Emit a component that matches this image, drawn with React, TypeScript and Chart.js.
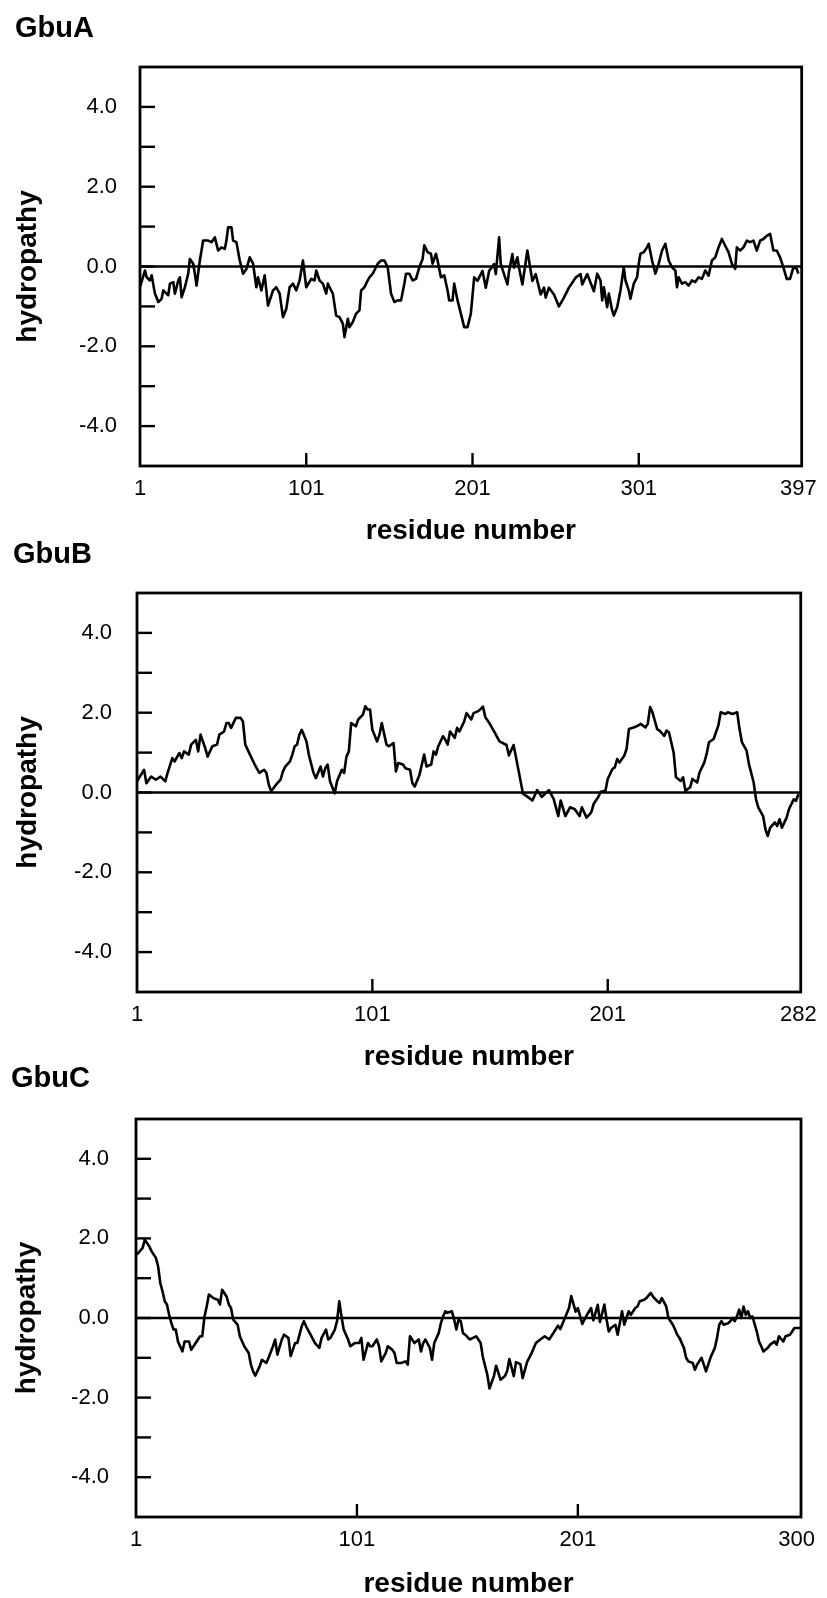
import React, { useEffect, useRef } from "react";
import { Chart, registerables } from "chart.js";

Chart.register(...registerables);

// ---------------- DATA ----------------
const panelTitles = ["GbuA", "GbuB", "GbuC"];
const xAxisTitle = "residue number";
const yAxisTitle = "hydropathy";

const gbuAXTicks = [1, 101, 201, 301, 397];
const gbuBXTicks = [1, 101, 201, 282];
const gbuCXTicks = [1, 101, 201, 300];
const yTickValues = [-4, -3, -2, -1, 0, 1, 2, 3, 4];
const yLabelValues = [-4, -2, 0, 2, 4];

const gbuAResidue = [
  1, 4, 5, 7, 8, 10, 12, 14, 15, 17,
  18, 19, 21, 22, 24, 25, 26, 28, 30, 31,
  33, 34, 35, 37, 39, 42, 44, 46, 48, 50,
  52, 53, 54, 56, 57, 59, 61, 63, 65, 67,
  69, 71, 72, 74, 76, 78, 81, 83, 85, 87,
  89, 91, 93, 95, 97, 99, 101, 104, 106, 107,
  109, 111, 113, 114, 115, 117, 119, 121, 123, 124,
  126, 127, 129, 131, 133, 134, 136, 137, 139, 141,
  144, 146, 148, 150, 152, 154, 156, 158, 160, 161,
  163, 165, 167, 169, 171, 172, 174, 176, 177, 179,
  180, 182, 184, 186, 187, 189, 190, 192, 194, 196,
  198, 200, 202, 204, 207, 209, 211, 214, 215, 217,
  218, 222, 223, 225, 226, 228, 229, 231, 234, 237,
  239, 242, 244, 245, 247, 250, 253, 256, 259, 263,
  266, 267, 270, 274, 276, 278, 279, 280, 282, 283,
  285, 286, 288, 290, 292, 293, 295, 296, 298, 300,
  301, 302, 304, 306, 307, 309, 311, 313, 315, 317,
  319, 321, 323, 324, 325, 327, 329, 331, 333, 335,
  337, 339, 341, 343, 345, 347, 349, 351, 353, 355,
  357, 359, 360, 362, 364, 366, 368, 370, 372, 374,
  376, 378, 380, 382, 384, 386, 388, 390, 392, 394,
  396, 397,
];
const gbuAHydropathy = [
  -0.52, -0.10, -0.27, -0.35, -0.22, -0.68, -0.89, -0.81, -0.60, -0.68,
  -0.72, -0.43, -0.39, -0.68, -0.35, -0.27, -0.77, -0.52, -0.18, 0.19,
  0.07, -0.18, -0.48, 0.15, 0.65, 0.65, 0.61, 0.73, 0.40, 0.48,
  0.44, 0.65, 0.98, 0.98, 0.65, 0.61, 0.15, -0.18, -0.06, 0.23,
  0.07, -0.52, -0.27, -0.60, -0.22, -0.98, -0.60, -0.52, -0.68, -1.27,
  -1.06, -0.52, -0.43, -0.60, -0.35, 0.15, -0.52, -0.31, -0.35, -0.10,
  -0.35, -0.43, -0.68, -0.43, -0.52, -0.68, -1.23, -1.27, -1.43, -1.77,
  -1.31, -1.52, -1.39, -1.18, -1.10, -0.60, -0.52, -0.43, -0.27, -0.18,
  0.07, 0.15, 0.15, -0.02, -0.68, -0.89, -0.85, -0.85, -0.43, -0.18,
  -0.18, -0.35, -0.31, -0.02, 0.19, 0.53, 0.36, 0.32, 0.07, 0.32,
  0.15, -0.27, -0.22, -0.60, -0.85, -0.85, -0.43, -0.85, -1.18, -1.52,
  -1.52, -1.18, -0.27, -0.36, -0.11, -0.53, -0.11, 0.06, -0.19, 0.73,
  0.06, -0.45, -0.11, 0.31, -0.03, 0.23, -0.03, -0.45, 0.40, -0.36,
  -0.19, -0.70, -0.53, -0.78, -0.53, -0.70, -1.00, -0.78, -0.53, -0.28,
  -0.19, -0.45, -0.19, -0.62, -0.18, -0.35, -0.85, -0.52, -1.02, -0.68,
  -1.10, -1.23, -1.02, -0.60, -0.02, -0.35, -0.60, -0.81, -0.43, -0.27,
  0.07, 0.32, 0.36, 0.48, 0.57, 0.15, -0.18, 0.07, 0.40, 0.57,
  0.15, -0.02, -0.10, -0.52, -0.27, -0.43, -0.39, -0.48, -0.35, -0.39,
  -0.27, -0.31, -0.10, -0.23, 0.15, 0.23, 0.48, 0.69, 0.52, 0.36,
  0.07, -0.06, 0.48, 0.40, 0.48, 0.65, 0.61, 0.65, 0.40, 0.65,
  0.69, 0.77, 0.82, 0.40, 0.40, 0.23, -0.02, -0.31, -0.31, -0.02,
  -0.06, -0.18,
];

const gbuBResidue = [
  1, 4, 5, 7, 9, 11, 13, 14, 16, 17,
  19, 20, 21, 23, 24, 26, 27, 28, 30, 31,
  33, 35, 36, 38, 39, 40, 41, 43, 45, 46,
  47, 49, 51, 53, 55, 56, 57, 58, 60, 62,
  63, 64, 66, 67, 68, 69, 70, 71, 73, 74,
  76, 77, 79, 80, 81, 82, 83, 85, 86, 88,
  89, 90, 91, 92, 94, 95, 97, 98, 99, 100,
  101, 103, 104, 105, 107, 108, 110, 111, 112, 114,
  115, 117, 118, 119, 121, 123, 124, 126, 127, 128,
  129, 131, 132, 133, 134, 136, 137, 138, 140, 141,
  143, 144, 146, 148, 149, 151, 153, 155, 158, 159,
  161, 163, 165, 167, 169, 171, 173, 176, 178, 180,
  181, 183, 185, 187, 189, 190, 192, 194, 195, 197,
  198, 200, 201, 203, 204, 205, 206, 208, 209, 210,
  212, 214, 215, 217, 218, 219, 220, 222, 223, 225,
  226, 227, 229, 230, 232, 233, 234, 236, 237, 239,
  240, 242, 243, 244, 246, 247, 248, 249, 251, 252,
  254, 256, 257, 258, 260, 261, 263, 264, 265, 267,
  268, 269, 270, 272, 273, 274, 275, 277, 278, 280,
  281, 282,
];
const gbuBHydropathy = [
  0.28, 0.57, 0.23, 0.40, 0.32, 0.40, 0.28, 0.49, 0.86, 0.78,
  0.99, 0.86, 1.03, 0.95, 1.20, 1.32, 1.03, 1.45, 1.11, 0.90,
  1.16, 1.20, 1.45, 1.53, 1.74, 1.74, 1.62, 1.87, 1.87, 1.78,
  1.20, 0.95, 0.70, 0.49, 0.57, 0.49, 0.19, 0.03, 0.19, 0.32,
  0.53, 0.65, 0.78, 0.95, 1.16, 1.20, 1.45, 1.57, 1.28, 0.95,
  0.49, 0.36, 0.65, 0.40, 0.61, 0.70, 0.28, -0.02, 0.28, 0.57,
  0.49, 0.90, 1.03, 1.74, 1.66, 1.83, 1.95, 2.16, 2.08, 2.08,
  1.57, 1.28, 1.45, 1.74, 1.20, 1.16, 1.24, 0.53, 0.74, 0.70,
  0.61, 0.57, 0.23, 0.15, 0.44, 0.95, 0.65, 0.70, 1.03, 0.95,
  1.16, 1.41, 1.32, 1.20, 1.53, 1.37, 1.62, 1.53, 1.78, 1.99,
  1.83, 1.99, 2.04, 2.15, 1.89, 1.71, 1.50, 1.28, 1.19, 0.93,
  1.19, 0.58, -0.03, -0.11, -0.20, 0.06, -0.11, 0.06, -0.16, -0.59,
  -0.20, -0.59, -0.37, -0.42, -0.59, -0.37, -0.63, -0.50, -0.29, -0.11,
  0.02, 0.04, 0.34, 0.59, 0.63, 0.84, 0.75, 0.92, 1.09, 1.59,
  1.63, 1.68, 1.72, 1.63, 1.72, 2.14, 2.01, 1.59, 1.55, 1.42,
  1.55, 1.51, 1.00, 0.38, 0.29, 0.38, 0.04, 0.13, 0.34, 0.25,
  0.50, 0.75, 0.96, 1.26, 1.34, 1.51, 1.68, 2.01, 1.97, 2.01,
  1.97, 2.01, 1.59, 1.26, 1.05, 0.71, 0.25, -0.17, -0.38, -0.59,
  -0.92, -1.09, -0.88, -0.75, -0.84, -0.67, -0.88, -0.63, -0.42, -0.17,
  -0.21, -0.04,
];

const gbuCResidue = [
  1, 2, 4, 5, 7, 8, 10, 11, 12, 13,
  14, 15, 16, 17, 18, 19, 20, 22, 23, 25,
  26, 28, 30, 31, 32, 33, 34, 36, 38, 39,
  40, 42, 43, 44, 45, 47, 48, 50, 52, 53,
  54, 55, 57, 58, 60, 61, 63, 64, 65, 67,
  68, 70, 71, 73, 74, 76, 77, 78, 80, 82,
  84, 85, 87, 88, 89, 91, 92, 93, 94, 95,
  97, 98, 100, 102, 103, 104, 106, 107, 108, 110,
  111, 112, 114, 115, 117, 118, 119, 121, 123, 124,
  125, 126, 127, 129, 130, 131, 132, 134, 135, 136,
  138, 139, 140, 141, 142, 144, 145, 146, 147, 148,
  149, 150, 152, 155, 157, 158, 160, 161, 163, 164,
  166, 168, 169, 170, 172, 173, 175, 176, 178, 180,
  182, 184, 186, 188, 190, 192, 193, 195, 197, 198,
  200, 201, 203, 205, 207, 208, 210, 211, 213, 214,
  215, 216, 218, 219, 221, 222, 224, 225, 227, 228,
  229, 231, 232, 234, 235, 237, 238, 239, 241, 242,
  244, 245, 246, 247, 249, 250, 251, 253, 254, 255,
  257, 258, 259, 260, 261, 263, 264, 265, 266, 267,
  269, 270, 271, 272, 273, 274, 275, 276, 277, 278,
  279, 280, 282, 283, 284, 285, 287, 288, 290, 291,
  292, 294, 295, 297, 298, 299, 302,
];
const gbuCHydropathy = [
  1.59, 1.63, 1.76, 1.97, 1.80, 1.68, 1.51, 1.30, 0.88, 0.67,
  0.42, 0.34, 0.08, -0.13, -0.29, -0.29, -0.59, -0.84, -0.59, -0.59,
  -0.80, -0.63, -0.46, -0.46, 0.04, 0.29, 0.59, 0.50, 0.46, 0.34,
  0.71, 0.54, 0.34, 0.25, -0.04, -0.17, -0.46, -0.71, -0.88, -1.17,
  -1.34, -1.45, -1.21, -1.05, -1.13, -1.00, -0.71, -0.54, -0.92, -0.54,
  -0.42, -0.50, -0.96, -0.63, -0.63, -0.21, -0.08, -0.21, -0.42, -0.63,
  -0.75, -0.50, -0.29, -0.54, -0.50, -0.29, -0.08, 0.42, 0.04, -0.29,
  -0.54, -0.71, -0.63, -0.63, -0.50, -1.05, -0.63, -0.71, -0.71, -0.54,
  -0.71, -1.09, -0.88, -0.71, -0.80, -0.88, -1.13, -1.13, -1.09, -1.17,
  -0.46, -0.54, -0.63, -0.54, -0.84, -0.63, -0.54, -0.75, -1.05, -0.63,
  -0.38, -0.13, 0.04, 0.17, 0.13, 0.17, -0.04, -0.29, -0.04, -0.08,
  -0.38, -0.42, -0.54, -0.46, -0.63, -0.98, -1.42, -1.77, -1.46, -1.20,
  -1.55, -1.46, -1.33, -1.03, -1.46, -1.11, -1.16, -1.51, -1.11, -0.89,
  -0.63, -0.54, -0.46, -0.54, -0.37, -0.19, -0.28, -0.02, 0.25, 0.55,
  0.16, 0.25, -0.15, 0.07, 0.25, -0.06, 0.33, -0.10, 0.34, -0.04,
  -0.34, -0.25, -0.17, -0.42, 0.17, -0.17, 0.17, 0.08, 0.25, 0.29,
  0.42, 0.46, 0.50, 0.63, 0.54, 0.42, 0.38, 0.50, 0.29, 0.00,
  -0.17, -0.29, -0.42, -0.50, -0.75, -1.00, -1.09, -1.13, -1.30, -1.17,
  -1.00, -1.17, -1.34, -1.17, -1.00, -0.75, -0.50, -0.17, -0.08, -0.17,
  -0.13, -0.08, 0.00, -0.08, 0.04, 0.21, 0.00, 0.29, 0.08, 0.17,
  0.00, 0.04, -0.34, -0.59, -0.71, -0.84, -0.75, -0.67, -0.59, -0.67,
  -0.46, -0.59, -0.46, -0.42, -0.34, -0.25, -0.25,
];

const gbuAXMax = 399;
const gbuBXMax = 283;
const gbuCXMax = 302;

// ---------------- LAYOUT (page pixels) ----------------
const PAGE_W = 827;
const FONT = "'Liberation Sans', Arial, Helvetica, sans-serif";
const TITLE_SIZE = 29;
const AXIS_TITLE_SIZE = 28;
const TICK_SIZE = 22;
const MIDDLE_SHIFT = 0.3465; // baseline - middle, in em

const LAYOUTS = [
  { top: 0, height: 560, left: 140, right: 805, plotTop: 67, plotBottom: 466, titleLeft: 15, titleBaseline: 39, xTitleBaseline: 541, yTitleCenter: 28, yTickPad: 23 },
  { top: 520, height: 560, left: 137, right: 803, plotTop: 593, plotBottom: 992, titleLeft: 13, titleBaseline: 565, xTitleBaseline: 1067, yTitleCenter: 28, yTickPad: 25 },
  { top: 1046, height: 552, left: 136, right: 801, plotTop: 1119, plotBottom: 1517, titleLeft: 11, titleBaseline: 1089, xTitleBaseline: 1594, yTitleCenter: 27, yTickPad: 27 },
];

const PANELS = [
  { title: panelTitles[0], residue: gbuAResidue, value: gbuAHydropathy, xTicks: gbuAXTicks, xMax: gbuAXMax },
  { title: panelTitles[1], residue: gbuBResidue, value: gbuBHydropathy, xTicks: gbuBXTicks, xMax: gbuBXMax },
  { title: panelTitles[2], residue: gbuCResidue, value: gbuCHydropathy, xTicks: gbuCXTicks, xMax: gbuCXMax },
];

const framePlugin = {
  id: "hydroFrame",
  beforeDatasetsDraw(chart: any) {
    const { ctx, chartArea, scales } = chart;
    const { left, right, top, bottom } = chartArea;
    const x = scales.x;
    const y = scales.y;
    ctx.save();
    ctx.strokeStyle = "#000";
    ctx.lineCap = "butt";
    // zero line
    const y0 = y.getPixelForValue(0);
    ctx.lineWidth = 2.3;
    ctx.beginPath();
    ctx.moveTo(left, y0);
    ctx.lineTo(right, y0);
    ctx.stroke();
    // inward ticks
    ctx.lineWidth = 2.4;
    y.ticks.forEach((t: any) => {
      const py = y.getPixelForValue(t.value);
      ctx.beginPath();
      ctx.moveTo(left, py);
      ctx.lineTo(left + 15, py);
      ctx.stroke();
    });
    const n = x.ticks.length;
    x.ticks.forEach((t: any, i: number) => {
      if (i === 0 || i === n - 1) return; // first/last coincide with the frame
      const px = x.getPixelForValue(t.value);
      ctx.beginPath();
      ctx.moveTo(px, bottom);
      ctx.lineTo(px, bottom - 13);
      ctx.stroke();
    });
    // frame
    ctx.lineWidth = 2.8;
    ctx.strokeRect(left, top, right - left, bottom - top);
    ctx.restore();
  },
};

function buildConfig(panel: any, L: any) {
  const titleLH = TITLE_SIZE * 1.2;
  const axLH = AXIS_TITLE_SIZE * 1.2;
  const tickLH = TICK_SIZE * 1.2;
  const plotTopC = L.plotTop - L.top;
  const plotBottomC = L.plotBottom - L.top;
  const titleMiddle = L.titleBaseline - L.top - MIDDLE_SHIFT * TITLE_SIZE;
  const titlePadTop = titleMiddle - titleLH / 2;
  const titlePadBottom = plotTopC - titleLH - titlePadTop;
  const xBoxH = L.height - plotBottomC;
  const xTitleMiddle = L.xTitleBaseline - L.top - MIDDLE_SHIFT * AXIS_TITLE_SIZE;
  const xTitlePadBottom = L.height - xTitleMiddle - axLH / 2;
  const yBoxW = L.left - L.titleLeft;
  const yTitlePadTop = L.yTitleCenter - L.titleLeft - axLH / 2;
  const xTickPad = 31 - tickLH / 2 - MIDDLE_SHIFT * TICK_SIZE;

  return {
    type: "line",
    data: {
      datasets: [
        {
          data: panel.residue.map((r: number, i: number) => ({ x: r, y: panel.value[i] })),
          borderColor: "#000",
          borderWidth: 2.6,
          pointRadius: 0,
          tension: 0,
          fill: false,
          borderJoinStyle: "round",
        },
      ],
    },
    options: {
      responsive: false,
      animation: false,
      devicePixelRatio: 1,
      events: [],
      layout: { padding: { left: L.titleLeft, right: PAGE_W - L.right, top: 0, bottom: 0 } },
      plugins: {
        legend: { display: false },
        tooltip: { enabled: false },
        title: {
          display: true,
          text: panel.title,
          align: "start",
          color: "#000",
          font: { family: FONT, size: TITLE_SIZE, weight: "bold", lineHeight: 1.2 },
          padding: { top: titlePadTop, bottom: titlePadBottom },
        },
      },
      scales: {
        x: {
          type: "linear",
          min: 1,
          max: panel.xMax,
          grid: { display: false, drawTicks: false, tickLength: 0 },
          border: { display: false },
          afterBuildTicks: (s: any) => {
            s.ticks = panel.xTicks.map((v: number) => ({ value: v }));
          },
          afterFit: (s: any) => {
            s.height = xBoxH;
          },
          ticks: {
            autoSkip: false,
            maxRotation: 0,
            minRotation: 0,
            color: "#000",
            padding: xTickPad,
            font: { family: FONT, size: TICK_SIZE, lineHeight: 1.2 },
            callback: (v: any) => String(v),
          },
          title: {
            display: true,
            text: xAxisTitle,
            color: "#000",
            font: { family: FONT, size: AXIS_TITLE_SIZE, weight: "bold", lineHeight: 1.2 },
            padding: { top: 0, bottom: xTitlePadBottom },
          },
        },
        y: {
          type: "linear",
          min: -5,
          max: 5,
          grid: { display: false, drawTicks: false, tickLength: 0 },
          border: { display: false },
          afterBuildTicks: (s: any) => {
            s.ticks = yTickValues.map((v) => ({ value: v }));
          },
          afterFit: (s: any) => {
            s.width = yBoxW;
          },
          ticks: {
            autoSkip: false,
            color: "#000",
            padding: L.yTickPad,
            font: { family: FONT, size: TICK_SIZE, lineHeight: 1.2 },
            callback: (v: any) => (yLabelValues.includes(Number(v)) ? Number(v).toFixed(1) : ""),
          },
          title: {
            display: true,
            text: yAxisTitle,
            color: "#000",
            font: { family: FONT, size: AXIS_TITLE_SIZE, weight: "bold", lineHeight: 1.2 },
            padding: { top: yTitlePadTop, bottom: 0 },
          },
        },
      },
    },
    plugins: [framePlugin],
  };
}

function Panel({ panel, layout }: { panel: any; layout: any }) {
  const ref = useRef<HTMLCanvasElement>(null);
  useEffect(() => {
    if (!ref.current) return;
    const chart = new Chart(ref.current, buildConfig(panel, layout) as any);
    return () => chart.destroy();
  }, [panel, layout]);
  return (
    <canvas
      ref={ref}
      width={PAGE_W}
      height={layout.height}
      style={{ position: "absolute", left: 0, top: layout.top, width: PAGE_W, height: layout.height }}
    />
  );
}

export default function App() {
  return (
    <div style={{ position: "absolute", left: 0, top: 0, width: PAGE_W, height: 1598, background: "#fff", overflow: "hidden" }}>
      {PANELS.map((p, i) => (
        <Panel key={p.title} panel={p} layout={LAYOUTS[i]} />
      ))}
    </div>
  );
}
